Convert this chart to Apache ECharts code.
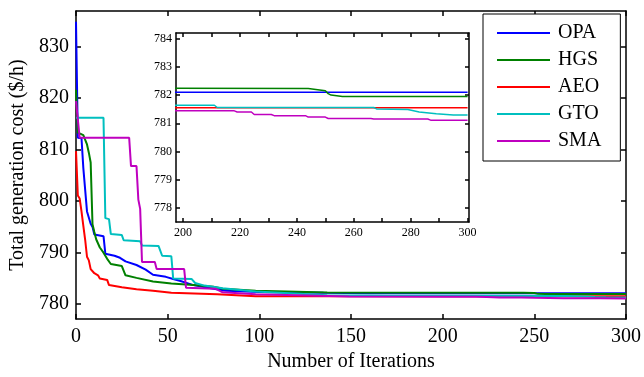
<!DOCTYPE html>
<html>
<head>
<meta charset="utf-8">
<script src="https://cdn.jsdelivr.net/npm/echarts@6/dist/echarts.min.js"></script>
<style>
  html, body { margin: 0; padding: 0; background: #fff; }
  #chart { width: 644px; height: 377px; }
</style>
</head>
<body>
<div id="chart"></div>
<script>
// tick positions
const iterTicks = [0, 50, 100, 150, 200, 250, 300];
const costTicks = [780, 790, 800, 810, 820, 830];
const insetIterLabels = [200, 220, 240, 260, 280, 300];
const insetIterTicks = [200, 210, 220, 230, 240, 250, 260, 270, 280, 290, 300];
const insetCostTicks = [778, 779, 780, 781, 782, 783, 784];

const names = ['OPA', 'HGS', 'AEO', 'GTO', 'SMA'];
const colors = ['#0000ff', '#008000', '#ff0000', '#00bfbf', '#bf00bf'];

// [iteration, cost] breakpoints
const opa = [[0, 834.8], [1, 812.3], [3, 812.2], [4, 806.4], [5, 806.3], [6, 798.0], [7, 797.7],
  [8, 795.6], [9, 795.0], [10, 793.5], [15, 793.2], [16, 789.8], [21, 789.4], [24, 789.0],
  [27, 788.3], [33, 787.6], [38, 786.7], [42, 785.7], [49, 785.3], [53, 784.9], [57, 784.5],
  [64, 783.7], [75, 783.0], [82, 782.6], [100, 782.35], [135, 782.2], [160, 782.1], [300, 782.1]];

const hgs = [[0, 821.6], [1, 813.3], [4, 812.8], [6, 811.0], [7, 809.4], [8, 807.5], [9, 795.5],
  [10, 794.0], [11, 792.6], [13, 791.0], [15, 790.0], [17, 788.8], [19, 787.8], [25, 787.4],
  [27, 785.6], [33, 785.1], [42, 784.4], [52, 784.0], [64, 783.7], [75, 783.4], [80, 783.0],
  [98, 782.6], [137, 782.25], [244, 782.23], [250, 782.15], [251, 782.05], [252, 782.0],
  [256, 781.95], [300, 781.95]];

const aeo = [[0, 809.7], [1, 801.1], [2, 800.5], [3, 798.0], [4, 795.2], [5, 792.5], [6, 789.2],
  [7, 788.5], [8, 786.8], [10, 786.0], [12, 785.6], [13, 785.0], [17, 784.7], [18, 783.7],
  [25, 783.3], [33, 782.9], [42, 782.6], [52, 782.2], [77, 781.9], [98, 781.55], [300, 781.55]];

const gto = [[0, 816.2], [15, 816.2], [16, 796.7], [18, 796.5], [19, 793.6], [25, 793.4],
  [26, 792.4], [35, 792.2], [36, 791.4], [45, 791.3], [47, 789.4], [52, 789.3], [53, 785.0],
  [63, 784.9], [65, 784.1], [70, 783.6], [80, 783.1], [98, 782.45], [137, 781.75], [170, 781.64],
  [211, 781.64], [212, 781.56], [267, 781.56], [268, 781.51], [279, 781.49], [283, 781.4],
  [289, 781.34], [295, 781.29], [300, 781.29]];

const sma = [[0, 819.4], [2, 812.3], [29, 812.3], [30, 806.8], [33, 806.8], [34, 800.3],
  [35, 798.5], [36, 788.2], [43, 788.2], [44, 786.8], [59, 786.8], [60, 783.2], [76, 783.0],
  [80, 782.3], [98, 781.9], [149, 781.5], [200, 781.44], [218, 781.44], [219, 781.4],
  [224, 781.4], [225, 781.31], [231, 781.31], [232, 781.27], [243, 781.27], [244, 781.22],
  [250, 781.22], [251, 781.17], [266, 781.17], [267, 781.15], [286, 781.15], [287, 781.11],
  [300, 781.11]];

const allData = [opa, hgs, aeo, gto, sma];

const serif = 'Liberation Serif';
const black = { color: '#000', width: 1.5 };

function makeAxis(grid, pos, min, max, ticks, labels, opts) {
  return Object.assign({
    type: 'value', gridIndex: grid, position: pos, min: min, max: max,
    axisLine: { show: true, onZero: false, lineStyle: black },
    axisTick: { show: true, inside: true, length: opts.tickLen, customValues: ticks, lineStyle: black },
    axisLabel: labels ? {
      customValues: labels, color: '#000', fontFamily: serif,
      fontSize: opts.fontSize, margin: opts.margin
    } : { show: false },
    splitLine: { show: false }
  }, opts.extra || {});
}

const chart = echarts.init(document.getElementById('chart'));

const series = [];
allData.forEach((d, i) => {
  series.push({
    name: names[i], type: 'line', data: d, xAxisIndex: 0, yAxisIndex: 0,
    symbol: 'none', lineStyle: { color: colors[i], width: 2 }, itemStyle: { color: colors[i] },
    clip: true, z: 2
  });
});
allData.forEach((d, i) => {
  series.push({
    name: names[i], type: 'line', data: d, xAxisIndex: 2, yAxisIndex: 2,
    symbol: 'none', lineStyle: { color: colors[i], width: 1.5 }, itemStyle: { color: colors[i] },
    clip: true, zlevel: 1, z: 3
  });
});

chart.setOption({
  animation: false,
  backgroundColor: '#fff',
  grid: [
    { left: 76, top: 11, width: 551, height: 310 },
    { left: 176, top: 33, width: 293, height: 189, show: true, backgroundColor: '#fff',
      borderWidth: 0, zlevel: 1 }
  ],
  legend: {
    orient: 'vertical', left: 483, top: 14,
    padding: [9, 19, 10, 14],
    icon: 'rect',
    itemWidth: 53, itemHeight: 2, itemGap: 7,
    backgroundColor: '#fff', borderColor: '#000', borderWidth: 1,
    textStyle: { fontFamily: serif, fontSize: 20, lineHeight: 20, color: '#000', padding: [0, 0, 0, 3] },
    data: names
  },
  xAxis: [
    makeAxis(0, 'bottom', 0, 300, iterTicks, iterTicks, {
      tickLen: 5, fontSize: 20, margin: 8,
      extra: {
        name: 'Number of Iterations', nameLocation: 'middle', nameGap: 31,
        nameTextStyle: { fontFamily: serif, fontSize: 20, color: '#000' }
      }
    }),
    makeAxis(0, 'top', 0, 300, iterTicks, null, { tickLen: 5 }),
    makeAxis(1, 'bottom', 197.5, 300.5, insetIterTicks, insetIterLabels, {
      tickLen: 4, fontSize: 12, margin: 5, extra: { zlevel: 1 }
    }),
    makeAxis(1, 'top', 197.5, 300.5, insetIterTicks, null, { tickLen: 4, extra: { zlevel: 1 } })
  ],
  yAxis: [
    makeAxis(0, 'left', 777.1, 836.9, costTicks, costTicks, {
      tickLen: 5, fontSize: 20, margin: 7,
      extra: {
        name: 'Total generation cost ($/h)', nameLocation: 'middle', nameGap: 42,
        nameTextStyle: { fontFamily: serif, fontSize: 20, color: '#000' }
      }
    }),
    makeAxis(0, 'right', 777.1, 836.9, costTicks, null, { tickLen: 5 }),
    makeAxis(1, 'left', 777.5, 784.2, insetCostTicks, insetCostTicks, {
      tickLen: 4, fontSize: 12, margin: 4, extra: { zlevel: 1 }
    }),
    makeAxis(1, 'right', 777.5, 784.2, insetCostTicks, null, { tickLen: 4, extra: { zlevel: 1 } })
  ],
  series: series
});
</script>
</body>
</html>
